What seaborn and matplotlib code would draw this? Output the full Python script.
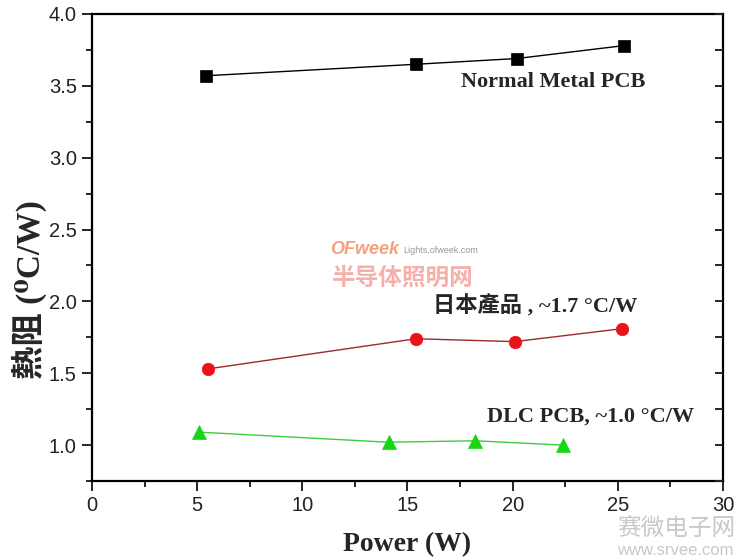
import numpy as np
import pandas as pd
import matplotlib
matplotlib.use("Agg")
import matplotlib.pyplot as plt
import seaborn as sns
from matplotlib.ticker import MultipleLocator

# values
metal_power = [5.4, 15.4, 20.2, 25.3]
metal_res = [3.57, 3.65, 3.69, 3.78]

jp_power = [5.5, 15.4, 20.1, 25.2]
jp_res = [1.53, 1.74, 1.72, 1.81]

dlc_power = [5.1, 14.1, 18.2, 22.4]
dlc_res = [1.09, 1.02, 1.03, 1.00]

x_ticks = [0, 5, 10, 15, 20, 25, 30]
y_ticks = [1.0, 1.5, 2.0, 2.5, 3.0, 3.5, 4.0]

sns.set_style("ticks")
plt.rcParams['font.family'] = ['Liberation Serif', 'DejaVu Serif', 'Noto Sans CJK TC']

fig = plt.figure(figsize=(7.4, 5.59), dpi=100)
ax = fig.add_axes([0.1243, 0.1395, 0.8527, 0.8355])

# series: (x, y, line colour, marker, face colour, marker size)
series = [
    (metal_power, metal_res, "black", "s", "black", 8),
    (jp_power, jp_res, "#a0282a", "o", "#e8141a", 9),
    (dlc_power, dlc_res, "#3ccc3c", "^", "#16d616", 9.5),
]
for xs, ys, lc, mk, fc, ms in series:
    df = pd.DataFrame({"Power": xs, "R": ys})
    sns.lineplot(data=df, x="Power", y="R", ax=ax, color=lc, lw=1.0,
                 marker=mk, markersize=ms, markerfacecolor=fc,
                 markeredgecolor=fc, markeredgewidth=0.5)

ax.set_xlim(0, 30)
ax.set_ylim(0.75, 4.0)
ax.set_xticks(x_ticks)
ax.set_yticks(y_ticks)
ax.xaxis.set_minor_locator(MultipleLocator(2.5))
ax.yaxis.set_minor_locator(MultipleLocator(0.25))
ax.set_xticklabels([str(v) for v in x_ticks])
ax.set_yticklabels([f"{v:.1f}" for v in y_ticks])

for sp in ax.spines.values():
    sp.set_visible(True)
    sp.set_linewidth(1.6)
    sp.set_color("black")

ax.tick_params(which="major", direction="out", length=7, width=1.4,
               labelsize=14.5, labelcolor="#222222", pad=4)
ax.tick_params(which="minor", direction="out", length=4, width=1.4)
for lab in ax.get_xticklabels() + ax.get_yticklabels():
    lab.set_family("Liberation Sans")

# inward ticks on the right spine, no labels
ax2 = ax.twinx()
ax2.set_ylim(0.75, 4.0)
ax2.set_yticks(y_ticks)
ax2.yaxis.set_minor_locator(MultipleLocator(0.25))
ax2.tick_params(which="both", direction="in", length=6, width=1.4,
                labelright=False)
for sp in ax2.spines.values():
    sp.set_visible(False)

ax.set_xlabel("Power (W)", fontsize=20, fontweight="bold", labelpad=12)
ax.set_ylabel("熱阻 (⁰C/W)", fontsize=24, fontweight="bold")
ax.yaxis.set_label_coords(-0.072, 0.41)

ax.text(17.55, 3.53, "Normal Metal PCB", fontsize=16, fontweight="bold",
        ha="left", va="center")
ax.text(16.2, 1.97, "日本產品 , ~1.7 °C/W", fontsize=16, fontweight="bold",
        ha="left", va="center")
ax.text(18.8, 1.195, "DLC PCB, ~1.0 °C/W", fontsize=16, fontweight="bold",
        ha="left", va="center")

# watermarks
fig.text(0.446, 0.545, "OFweek", fontsize=13, fontweight="bold", style="italic",
         color="#f08a5a", family="Liberation Sans", alpha=0.8)
fig.text(0.545, 0.548, "Lights.ofweek.com", fontsize=6.5, color="#999999",
         family="Liberation Sans")
fig.text(0.449, 0.49, "半导体照明网", fontsize=17, fontweight="bold",
         color="#f4a8a0", family="Noto Sans CJK SC", alpha=0.9)
fig.text(0.834, 0.043, "赛微电子网", fontsize=17, color="#c8c8c8",
         family="Noto Sans CJK SC")
fig.text(0.834, 0.008, "www.srvee.com", fontsize=12, color="#c8c8c8",
         family="Liberation Sans")

fig.savefig("out.png", dpi=100)
